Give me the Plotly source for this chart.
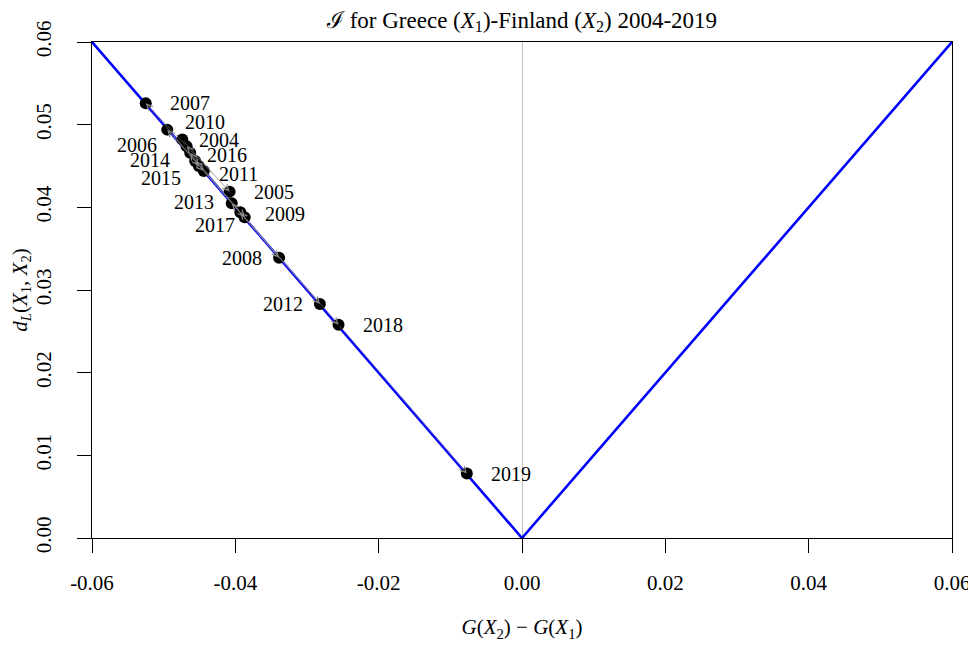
import plotly.graph_objects as go

# ---- data ----
years = [2004, 2005, 2006, 2007, 2008, 2009, 2010, 2011,
         2012, 2013, 2014, 2015, 2016, 2017, 2018, 2019]
g_diff = [-0.0474, -0.0408, -0.0468, -0.0525, -0.0339, -0.0393, -0.0495, -0.0444,
          -0.0282, -0.0405, -0.0456, -0.0451, -0.0463, -0.0387, -0.0256, -0.0077]
d_L = [0.0482, 0.0419, 0.0474, 0.0526, 0.0339, 0.0394, 0.0494, 0.0444,
       0.0283, 0.0405, 0.0456, 0.0450, 0.0466, 0.0388, 0.0258, 0.0078]

v_x = [-0.06, 0.0, 0.06]
v_y = [0.06, 0.0, 0.06]

x_ticks = [-0.06, -0.04, -0.02, 0.0, 0.02, 0.04, 0.06]
x_ticklabels = ["-0.06", "-0.04", "-0.02", "0.00", "0.02", "0.04", "0.06"]
y_ticks = [0.0, 0.01, 0.02, 0.03, 0.04, 0.05, 0.06]
y_ticklabels = ["0.00", "0.01", "0.02", "0.03", "0.04", "0.05", "0.06"]

# label placement (side, xshift px, yshift px)
label_pos = {
    2004: ("r", 15, 0), 2005: ("r", 22, 0), 2006: ("l", -28, 1), 2007: ("r", 22, 0),
    2008: ("l", -15, 0), 2009: ("r", 23, -2), 2010: ("r", 16, 8), 2011: ("r", 13, -3),
    2012: ("l", -15, 0), 2013: ("l", -16, 1), 2014: ("l", -23, 1), 2015: ("l", -16, -12),
    2016: ("r", 15, -2), 2017: ("l", -8, -8), 2018: ("r", 22, 0), 2019: ("r", 22, 0),
}

FONT = "Liberation Serif"

fig = go.Figure()
fig.add_trace(go.Scatter(x=v_x, y=v_y, mode="lines",
                         line=dict(color="#0000ff", width=2.6),
                         hoverinfo="skip", showlegend=False))

annotations = []
# trajectory arrows between consecutive years
for i in range(1, len(years)):
    annotations.append(dict(
        x=g_diff[i], y=d_L[i], ax=g_diff[i - 1], ay=d_L[i - 1],
        xref="x", yref="y", axref="x", ayref="y",
        text="", showarrow=True, arrowhead=5, arrowsize=2.4,
        arrowwidth=0.5, arrowcolor="#8c8c8c", standoff=0))

fig.add_trace(go.Scatter(x=g_diff, y=d_L, mode="markers",
                         marker=dict(color="black", size=12),
                         text=[str(y) for y in years],
                         showlegend=False))

# year labels
for yr, gx, dy in zip(years, g_diff, d_L):
    side, xs, ys = label_pos[yr]
    annotations.append(dict(
        x=gx, y=dy, xref="x", yref="y", text=str(yr), showarrow=False,
        xanchor="left" if side == "r" else "right", yanchor="middle",
        xshift=xs, yshift=ys,
        font=dict(family=FONT, size=20, color="black")))

# page has an 8px body margin, so the figure is shrunk by 8px on each offset side
fig.update_layout(
    width=968, height=638,
    margin=dict(l=84, r=24, t=34, b=108),
    paper_bgcolor="white", plot_bgcolor="white",
    font=dict(family=FONT, size=21, color="black"),
    title=dict(text="ℐ for Greece (<i>X</i><sub>1</sub>)-Finland (<i>X</i><sub>2</sub>) 2004-2019",
               x=0.5, xref="paper", xanchor="center", y=0.982, yanchor="middle",
               font=dict(family=FONT, size=23, color="black")),
    annotations=annotations,
)
fig.update_xaxes(
    range=[-0.06, 0.06], tickvals=x_ticks, ticktext=x_ticklabels,
    ticks="outside", ticklen=14, tickcolor="black", tickwidth=1,
    showline=True, linecolor="black", linewidth=1, mirror=True,
    showgrid=False, zeroline=True, zerolinecolor="#bebebe", zerolinewidth=1,
    ticklabelstandoff=12, automargin=False,
    tickfont=dict(family=FONT, size=21),
    title=dict(text="<i>G</i>(<i>X</i><sub>2</sub>) − <i>G</i>(<i>X</i><sub>1</sub>)",
               standoff=25, font=dict(family=FONT, size=21)),
)
fig.update_yaxes(
    range=[0, 0.06], tickvals=y_ticks, ticktext=y_ticklabels,
    ticks="outside", ticklen=14, tickcolor="black", tickwidth=1,
    showline=True, linecolor="black", linewidth=1, mirror=True,
    showgrid=False, zeroline=False, tickangle=-90,
    ticklabelstandoff=18, automargin=False,
    tickfont=dict(family=FONT, size=21),
    title=dict(text="<i>d</i><sub><i>L</i></sub>(<i>X</i><sub>1</sub>, <i>X</i><sub>2</sub>)",
               standoff=8, font=dict(family=FONT, size=21)),
)

fig.write_html("out.html")
